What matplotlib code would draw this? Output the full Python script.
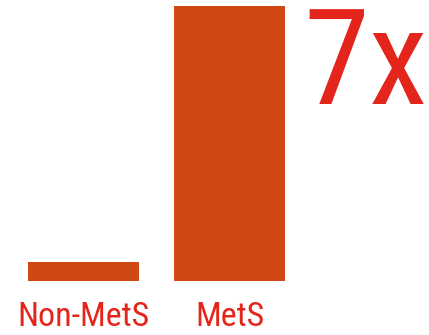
import matplotlib
matplotlib.use("Agg")
import matplotlib.pyplot as plt

# data
groups = ["Non-MetS", "MetS"]
values = [1.0, 14.5]
ratio_label = "7x"

bar_color = "#CF4816"
text_color = "#E3251B"
fonts = ["Roboto Condensed", "DejaVu Sans"]

fig = plt.figure(figsize=(4.29, 3.35), dpi=100)
ax = fig.add_axes([0, 54 / 335, 1, 281 / 335])

ax.bar(range(len(groups)), values, width=0.76, color=bar_color, edgecolor="none")
ax.set_xlim(-83.5 / 146, (429 - 83.5) / 146)
ax.set_ylim(0, 14.82)
ax.axis("off")

for i, g in enumerate(groups):
    ax.text(i, -1.05, g, ha="center", va="top", fontsize=24.5,
            color=text_color, family=fonts, fontstretch="condensed")

ax.text(2.36, 14.6, ratio_label, ha="right", va="top", fontsize=96,
        color=text_color, family=fonts, fontstretch="condensed")

fig.savefig("out.png", dpi=100, facecolor="white")
